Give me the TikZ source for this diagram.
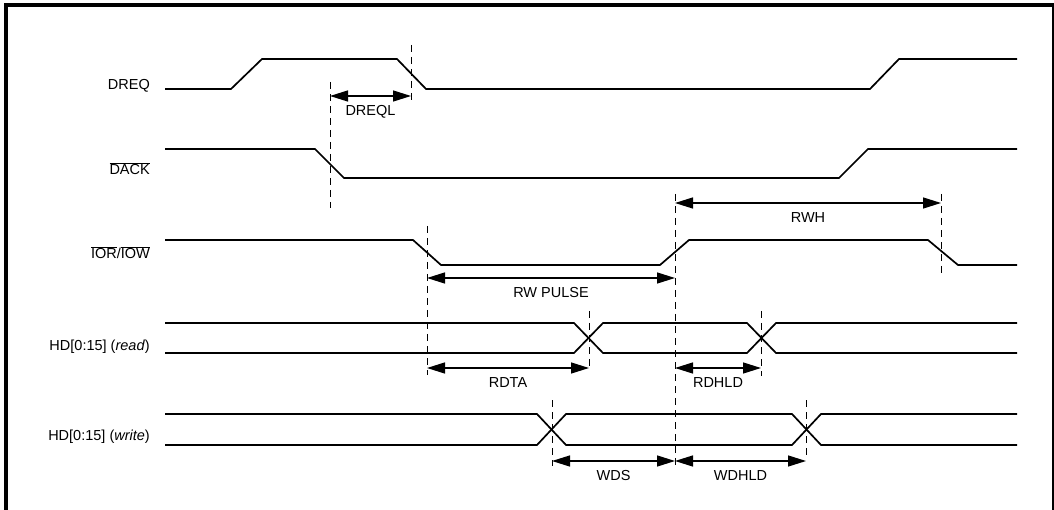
\documentclass[tikz,border=0pt]{standalone}
\usepackage{fontspec}
\setmainfont{Liberation Sans}
\usetikzlibrary{arrows.meta, positioning, calc}

\begin{document}
\begin{tikzpicture}[x=1pt, y=-1pt, font=\fontsize{14.5}{16}\selectfont,
    wave/.style={line width=1.7pt},
    guide/.style={line width=0.9pt, dash pattern=on 7pt off 5pt},
    span/.style={line width=1.4pt, {Triangle[length=18pt,width=11pt]}-{Triangle[length=18pt,width=11pt]}},
    sig/.style={anchor=east, inner sep=0pt},
    tag/.style={inner sep=0pt, below=9pt}]
    \useasboundingbox (0,0) rectangle (1054,510);
    \draw[line width=3.5pt] (1054,5) -- (6,5) -- (6,510);
    \draw[line width=1.3pt] (1053,5) -- (1053,510);

    \node[sig] (dreq) at (150,86) {DREQ};
    \node[sig] (dack) at (150,169) {$\overline{\mbox{DACK}}$};
    \node[sig] (iorw) at (150,253) {$\overline{\mbox{IOR}}$/$\overline{\mbox{IOW}}$};
    \node[sig] (hdrd) at (150,347) {HD[0:15] (\textit{read})};
    \node[sig] (hdwr) at (150,437) {HD[0:15] (\textit{write})};

    \draw[wave] (165,89) -- (231,89) -- (262,59) -- (397,59) -- (426,89) -- (870,89) -- (899,59) -- (1017,59);
    \draw[wave] (165,149) -- (315,149) -- (344,178) -- (839,178) -- (868,149) -- (1017,149);
    \draw[wave] (165,240) -- (413,240) -- (441,265) -- (660,265) -- (689,240) -- (928,240) -- (958,265) -- (1017,265);
    \draw[wave] (165,323) -- (574,323) -- (603,353) -- (747,353) -- (776,323) -- (1017,323);
    \draw[wave] (165,353) -- (574,353) -- (603,323) -- (747,323) -- (776,353) -- (1017,353);
    \draw[wave] (165,414) -- (537,414) -- (566,445) -- (792,445) -- (821,414) -- (1017,414);
    \draw[wave] (165,445) -- (537,445) -- (566,414) -- (792,414) -- (821,445) -- (1017,445);

    \foreach \x/\ya/\yb in {330/82/208, 411/45/100, 427/226/375, 675/194/465, 941/194/274,
                            589/311/367, 761/311/376, 552/400/466, 806/400/458}
        \draw[guide] (\x,\ya) -- (\x,\yb);

    \coordinate (dreqlA) at (330,96);  \coordinate (dreqlB) at (411,96);
    \coordinate (rwhA) at (675,203);   \coordinate (rwhB) at (941,203);
    \coordinate (rwpA) at (427,278);   \coordinate (rwpB) at (675,278);
    \coordinate (rdtaA) at (427,368);  \coordinate (rdtaB) at (589,368);
    \coordinate (rdhA) at (675,368);   \coordinate (rdhB) at (761,368);
    \coordinate (wdsA) at (552,461);   \coordinate (wdsB) at (675,461);
    \coordinate (wdhA) at (675,461);   \coordinate (wdhB) at (806,461);

    \draw[span] (dreqlA) -- node[tag] (dreql) {DREQL} (dreqlB);
    \draw[span] (rwhA) -- node[tag] (rwh) {RWH} (rwhB);
    \draw[span] (rwpA) -- node[tag] (rwp) {RW PULSE} (rwpB);
    \draw[span] (rdtaA) -- node[tag] (rdta) {RDTA} (rdtaB);
    \draw[span] (rdhA) -- node[tag] (rdhld) {RDHLD} (rdhB);
    \draw[span] (wdsA) -- node[tag] (wds) {WDS} (wdsB);
    \draw[span] (wdhA) -- node[tag] (wdhld) {WDHLD} (wdhB);
\end{tikzpicture}
\end{document}
